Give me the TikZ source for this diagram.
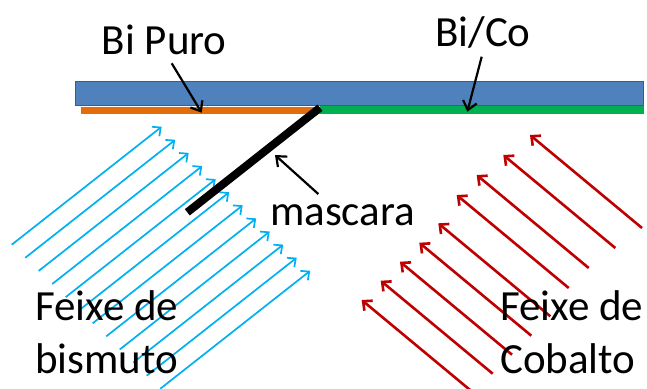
\documentclass[tikz,border=0pt]{standalone}
\usepackage{fontspec}
\setmainfont{Carlito}
\usetikzlibrary{arrows.meta}
\definecolor{barblue}{HTML}{4F81BD}
\definecolor{barborder}{HTML}{385D8A}
\definecolor{stripor}{HTML}{E46C0A}
\definecolor{stripgr}{HTML}{00B050}
\definecolor{beamblue}{HTML}{00B0F0}
\definecolor{beamred}{HTML}{C00000}
\begin{document}
\begin{tikzpicture}[x=1pt,y=-1pt,
  lbl/.style={font=\fontsize{43}{50}\selectfont, inner sep=0pt, anchor=base west},
  bluebeam/.style={draw=beamblue, line width=1.7pt, -{Straight Barb[length=6.5pt,width=12pt]}},
  redbeam/.style={draw=beamred, line width=2.6pt, -{Straight Barb[length=7pt,width=13pt]}},
  pointer/.style={draw=black, line width=2.2pt, -{Straight Barb[length=8.5pt,width=14pt]}}]
\useasboundingbox (0,0) rectangle (647,388);
\clip (0,0) rectangle (647,388);
% substrate
\draw[fill=barblue, draw=barborder, line width=0.8pt] (75,81) rectangle (643,105.5);
\fill[stripor] (80.7,106.8) rectangle (322,113.8);
\fill[stripgr] (320,105.6) rectangle (643.5,113.5);
% blue beams
\foreach \i in {0,...,11}{
  \coordinate (bt\i) at ({161.7+13.5*\i},{126.7+13.1*\i});
  \coordinate (bs\i) at ({11.7+13.5*\i},{244.7+13.1*\i});
  \draw[bluebeam] (bs\i) -- (bt\i);
}
% red beams
\foreach \x/\y [count=\k] in {530/135, 503.3/155, 476.7/175, 456.7/195, 438.3/223.3, 419.3/242.7, 400/261.7, 380.7/280.7, 361.7/300}{
  \coordinate (rt\k) at (\x,\y);
  \coordinate (rs\k) at ({\x+112},{\y+93});
  \draw[redbeam] (rs\k) -- (rt\k);
}
% mask
\coordinate (m1) at (187.3,212.3);
\coordinate (m2) at (320,107.7);
\draw[line width=8pt] (m1) -- (m2);
% labels
\node[lbl] (bipuro) at (101.7,54) {Bi Puro};
\node[lbl] (bico) at (435,46.7) {Bi/Co};
\node[lbl] (mascara) at (270,225) {mascara};
\node[lbl] (fx1) at (35,320) {Feixe de};
\node[lbl] (bis) at (35,373) {bismuto};
\node[lbl] (fx2) at (500,320) {Feixe de};
\node[lbl] (cob) at (500,373) {Cobalto};
% pointers
\coordinate (p1s) at (171.7,63.3);  \coordinate (p1t) at (201.7,112.7);
\coordinate (p2s) at (481.7,56.7);  \coordinate (p2t) at (467.3,111.7);
\coordinate (p3s) at (318.3,194);   \coordinate (p3t) at (275,155);
\draw[pointer] (p1s) -- (p1t);
\draw[pointer] (p2s) -- (p2t);
\draw[pointer] (p3s) -- (p3t);
\end{tikzpicture}
\end{document}
